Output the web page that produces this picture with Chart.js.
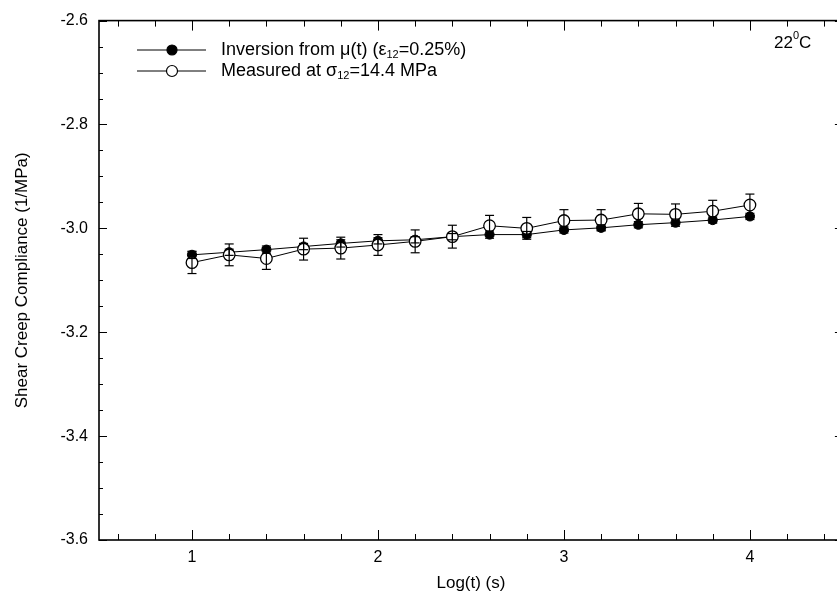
<!DOCTYPE html>
<html>
<head>
<meta charset="utf-8">
<script src="https://cdn.jsdelivr.net/npm/chart.js@4.4.1/dist/chart.umd.min.js"></script>
<style>
  html, body { margin: 0; padding: 0; background: #fff; overflow: hidden; }
  #wrap { width: 850px; height: 600px; }
</style>
</head>
<body>
<div id="wrap"><canvas id="c" width="850" height="600"></canvas></div>
<script>
// ---- data ----
const logTime = [1.0, 1.2, 1.4, 1.6, 1.8, 2.0, 2.2, 2.4, 2.6, 2.8, 3.0, 3.2, 3.4, 3.6, 3.8, 4.0];
const inversion = [-3.051, -3.046, -3.041, -3.035, -3.029, -3.024, -3.022, -3.016, -3.012, -3.012, -3.003, -2.999, -2.993, -2.989, -2.984, -2.977];
const inversionErr = [0.007, 0.006, 0.007, 0.006, 0.007, 0.006, 0.006, 0.006, 0.007, 0.006, 0.006, 0.006, 0.006, 0.007, 0.006, 0.006];
const measured = [-3.066, -3.051, -3.058, -3.040, -3.038, -3.032, -3.025, -3.016, -2.995, -3.000, -2.985, -2.984, -2.972, -2.973, -2.967, -2.955];
const measuredErr = [0.021, 0.021, 0.021, 0.021, 0.021, 0.020, 0.022, 0.022, 0.020, 0.021, 0.021, 0.020, 0.020, 0.020, 0.021, 0.021];
const xTickValues = [1, 2, 3, 4];
const yTickValues = [-3.6, -3.4, -3.2, -3.0, -2.8, -2.6];
const xLabel = 'Log(t) (s)';
const yLabel = 'Shear Creep Compliance (1/MPa)';
const tempLabel = ['22', '0', 'C'];
const legendRows = [
  { parts: ['Inversion from \u03BC(t) (\u03B5', '12', '=0.25%)'], filled: true },
  { parts: ['Measured at \u03C3', '12', '=14.4 MPa'], filled: false }
];

const FONT = '"Liberation Sans", Arial, Helvetica, sans-serif';

function toPts(ys) { return logTime.map((x, i) => ({ x: x, y: ys[i] })); }

function line(ctx, x1, y1, x2, y2) { ctx.beginPath(); ctx.moveTo(x1, y1); ctx.lineTo(x2, y2); ctx.stroke(); }

const errorBars = {
  id: 'errorBars',
  afterDatasetsDraw(chart) {
    const { ctx, scales: { x, y } } = chart;
    ctx.save();
    ctx.strokeStyle = '#000';
    ctx.lineWidth = 1.2;
    const sets = [[inversion, inversionErr], [measured, measuredErr]];
    sets.forEach(([vals, errs]) => {
      vals.forEach((v, i) => {
        const px = x.getPixelForValue(logTime[i]);
        const pTop = y.getPixelForValue(v + errs[i]);
        const pBot = y.getPixelForValue(v - errs[i]);
        line(ctx, px, pTop, px, pBot);
        line(ctx, px - 4.5, pTop, px + 4.5, pTop);
        line(ctx, px - 4.5, pBot, px + 4.5, pBot);
      });
    });
    ctx.restore();
  }
};

function richText(ctx, parts, x, y, big, small, shift) {
  let tx = x;
  ctx.font = big + 'px ' + FONT;
  ctx.fillText(parts[0], tx, y);
  tx += ctx.measureText(parts[0]).width;
  ctx.font = small + 'px ' + FONT;
  ctx.fillText(parts[1], tx, y + shift);
  tx += ctx.measureText(parts[1]).width;
  ctx.font = big + 'px ' + FONT;
  ctx.fillText(parts[2], tx, y);
}

const frameTicks = {
  id: 'frameTicks',
  afterDraw(chart) {
    const { ctx, chartArea: a, scales: { x, y } } = chart;
    ctx.save();
    ctx.strokeStyle = '#000';
    ctx.lineWidth = 1;
    // y ticks every 0.05, major every 0.2
    for (let k = 0; k <= 20; k++) {
      const v = -3.6 + k * 0.05;
      const py = Math.round(y.getPixelForValue(v)) + 0.5;
      const len = (k % 4 === 0) ? 8 : 4;
      line(ctx, a.left, py, a.left + len, py);
      line(ctx, a.right, py, a.right - len, py);
    }
    // x ticks every 0.2, major at integers
    for (let k = 0; k <= 19; k++) {
      const v = 0.6 + k * 0.2;
      const px = Math.round(x.getPixelForValue(v)) + 0.5;
      const major = Math.abs(v - Math.round(v)) < 1e-6;
      const len = major ? 10 : 6;
      line(ctx, px, a.bottom, px, a.bottom - len);
      line(ctx, px, a.top, px, a.top + len);
    }
    // frame
    ctx.lineWidth = 1.6;
    ctx.strokeRect(a.left, a.top, a.right - a.left, a.bottom - a.top);

    // legend
    const lx1 = 137, lx2 = 206, mx = 172;
    const rowsY = [50, 71];
    legendRows.forEach((row, i) => {
      const yy = rowsY[i];
      ctx.lineWidth = 1;
      line(ctx, lx1, yy, lx2, yy);
      ctx.beginPath();
      ctx.arc(mx, yy, row.filled ? 5 : 5.5, 0, Math.PI * 2);
      ctx.fillStyle = row.filled ? '#000' : '#fff';
      ctx.fill();
      ctx.lineWidth = 1.2;
      ctx.stroke();
      ctx.fillStyle = '#000';
      ctx.textBaseline = 'middle';
      ctx.textAlign = 'left';
      richText(ctx, row.parts, 221, yy, 18, 11, 5);
    });

    // temperature
    ctx.textBaseline = 'middle';
    richText(ctx, tempLabel, 774, 43, 17, 11, -7);
    ctx.restore();
  }
};

new Chart(document.getElementById('c'), {
  type: 'line',
  data: {
    datasets: [
      {
        label: 'Measured',
        data: toPts(measured),
        borderColor: '#000',
        borderWidth: 1,
        pointRadius: 5.8,
        pointBackgroundColor: '#fff',
        pointBorderColor: '#000',
        pointBorderWidth: 1.3,
        tension: 0,
        fill: false
      },
      {
        label: 'Inversion',
        data: toPts(inversion),
        borderColor: '#000',
        borderWidth: 1,
        pointRadius: 4.6,
        pointBackgroundColor: '#000',
        pointBorderColor: '#000',
        pointBorderWidth: 1,
        tension: 0,
        fill: false
      }
    ]
  },
  options: {
    responsive: false,
    animation: false,
    layout: { padding: { top: 12, right: 6, left: 0, bottom: 0 } },
    plugins: { legend: { display: false }, tooltip: { enabled: false } },
    scales: {
      x: {
        type: 'linear',
        min: 0.5,
        max: 4.5,
        afterBuildTicks: s => { s.ticks = xTickValues.map(v => ({ value: v })); },
        afterFit: s => { s.height = 60; },
        grid: { display: false, drawTicks: false },
        border: { display: false },
        ticks: { color: '#000', font: { family: FONT, size: 16 }, padding: 8, callback: v => String(v) },
        title: { display: true, text: xLabel, color: '#000', font: { family: FONT, size: 17 }, padding: { top: 0, bottom: 6 } }
      },
      y: {
        type: 'linear',
        min: -3.6,
        max: -2.6,
        afterBuildTicks: s => { s.ticks = yTickValues.map(v => ({ value: v })); },
        afterFit: s => { s.width = 99; },
        grid: { display: false, drawTicks: false },
        border: { display: false },
        ticks: { color: '#000', font: { family: FONT, size: 16 }, padding: 11, callback: v => Number(v).toFixed(1) },
        title: { display: true, text: yLabel, color: '#000', font: { family: FONT, size: 17 }, padding: { top: 12, bottom: 0 } }
      }
    }
  },
  plugins: [errorBars, frameTicks]
});
</script>
</body>
</html>
